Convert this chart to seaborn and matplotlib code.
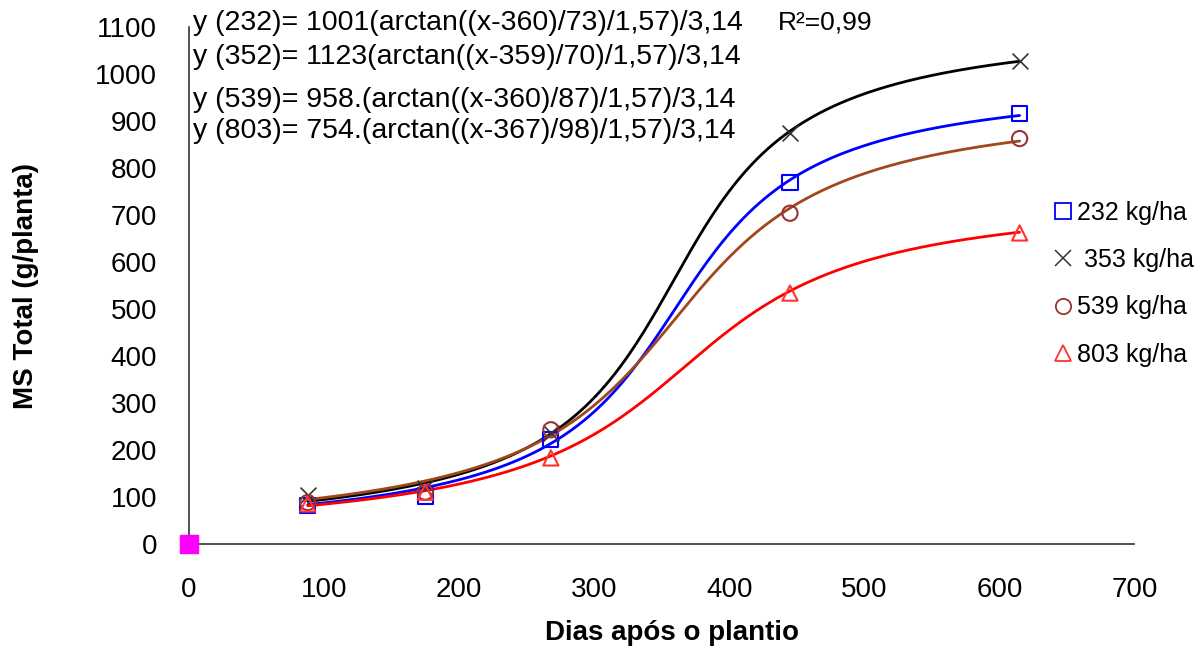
import numpy as np
import pandas as pd
import matplotlib
matplotlib.use("Agg")
import matplotlib.pyplot as plt
import seaborn as sns
from matplotlib.lines import Line2D

# dias de coleta
dias = [88, 175, 268, 445, 615]

# MS total (g/planta) por dose
ms_232 = [82, 102, 222, 770, 917]
ms_353 = [103, 118, 235, 874, 1028]
ms_539 = [88, 110, 243, 704, 863]
ms_803 = [85, 110, 183, 534, 662]

doses = ["232 kg/ha", " 353 kg/ha", "539 kg/ha", "803 kg/ha"]

# parametros do ajuste y = A*(arctan((x-c)/b)/1,57)/3,14 (como no grafico)
par_A = [1001, 1123, 958, 754]
par_c = [360, 359, 360, 367]
par_b = [73, 70, 87, 98]

equacoes = [
    "y (232)= 1001(arctan((x-360)/73)/1,57)/3,14",
    "y (352)= 1123(arctan((x-359)/70)/1,57)/3,14",
    "y (539)= 958.(arctan((x-360)/87)/1,57)/3,14",
    "y (803)= 754.(arctan((x-367)/98)/1,57)/3,14",
]

cores_linha = ["#0000FF", "#000000", "#A0471B", "#FF0000"]
cores_marc = ["#0000FF", "#333333", "#993333", "#FF3333"]
marcadores = ["s", "x", "o", "^"]

sns.set_style("white")
plt.rcParams["font.family"] = ["Liberation Sans", "DejaVu Sans"]
plt.rcParams["text.color"] = "black"
plt.rcParams["axes.labelcolor"] = "black"
plt.rcParams["xtick.color"] = "black"
plt.rcParams["ytick.color"] = "black"

fig = plt.figure(figsize=(12.03, 6.49), dpi=100)
ax = fig.add_axes([0.157, 0.162, 0.786, 0.796])

series = [ms_232, ms_353, ms_539, ms_803]
for i, ys in enumerate(series):
    xs = np.linspace(dias[0], dias[-1], 300)
    curva = par_A[i] * (0.5 + np.arctan((xs - par_c[i]) / par_b[i]) / np.pi)
    sns.lineplot(x=xs, y=curva, color=cores_linha[i], lw=2.0, ax=ax, zorder=2)

for i, ys in enumerate(series):
    df = pd.DataFrame({"dias": dias, "ms": ys})
    if marcadores[i] == "x":
        sns.scatterplot(data=df, x="dias", y="ms", marker="x", s=130,
                        color=cores_marc[i], linewidth=1.2, ax=ax, zorder=3)
    else:
        sns.scatterplot(data=df, x="dias", y="ms", marker=marcadores[i], s=120,
                        facecolor="none", edgecolor=cores_marc[i], linewidth=1.5,
                        ax=ax, zorder=3)

# ponto na origem
sns.scatterplot(x=[0], y=[0], marker="s", s=160, color="#FF00FF",
                edgecolor="#FF00FF", ax=ax, zorder=5, clip_on=False)

ax.set_xlim(0, 700)
ax.set_ylim(0, 1100)
ax.set_xticks(range(0, 701, 100))
ax.set_yticks(range(0, 1101, 100))
ax.tick_params(axis="both", direction="out", length=7, width=1.2,
               labelsize=20, color="#333333")
ax.tick_params(axis="x", pad=17)
ax.tick_params(axis="y", pad=16)
for s in ["top", "right"]:
    ax.spines[s].set_visible(False)
for s in ["left", "bottom"]:
    ax.spines[s].set_color("#333333")
    ax.spines[s].set_linewidth(1.2)

ax.set_xlabel("Dias após o plantio", fontsize=20, fontweight="bold", labelpad=15)
ax.xaxis.set_label_coords(0.511, -0.148)
ax.set_ylabel("MS Total (g/planta)", fontsize=20, fontweight="bold", labelpad=40)

# equacoes
pos_y = [1110, 1036, 945, 879]
for eq, py in zip(equacoes, pos_y):
    ax.text(3, py, eq, fontsize=20.5, va="center", ha="left")
ax.text(436, 1110, "R²=0,99", fontsize=19, va="center", ha="left")

handles = []
for i in range(4):
    if marcadores[i] == "x":
        h = Line2D([], [], ls="none", marker="x", ms=11, mew=1.1, color=cores_marc[i])
    else:
        h = Line2D([], [], ls="none", marker=marcadores[i], ms=11, mew=1.3,
                   mfc="none", mec=cores_marc[i])
    handles.append(h)
fig.legend(handles, doses, loc="upper left", bbox_to_anchor=(0.868, 0.706),
           frameon=False, fontsize=18, labelspacing=0.93, handlelength=0.7,
           handletextpad=0.2, borderaxespad=0)

fig.savefig("out.png", dpi=100)
